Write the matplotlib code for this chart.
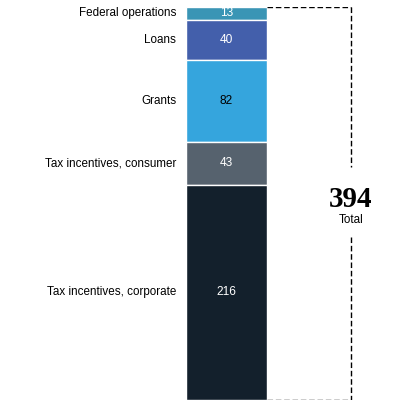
import matplotlib
matplotlib.use("Agg")
import matplotlib.pyplot as plt
import numpy as np

# 数据 (从上到下堆叠)
categories = ["Federal operations", "Loans", "Grants",
              "Tax incentives, consumer", "Tax incentives, corporate"]
values = [13, 40, 82, 43, 216]
colors = ["#3a95b5", "#435fab", "#35a5dd", "#56626e", "#13202c"]
label_colors = ["white", "white", "black", "white", "white"]
total = sum(values)

plt.rcParams['font.family'] = ['Liberation Sans', 'DejaVu Sans']

fig = plt.figure(figsize=(3.93, 4.11), dpi=100)
# 轴区域：纵向 y=7..400 像素对应 0..394
ax = fig.add_axes([0, 11 / 411, 1, 393 / 411])
ax.set_xlim(0, 393)
ax.set_ylim(total, 0)
ax.axis('off')

bar_x = 226.5
bar_w = 81
bottoms = np.concatenate([[0], np.cumsum(values)[:-1]])
ax.bar([bar_x] * len(values), values, bottom=bottoms, width=bar_w,
       color=colors, edgecolor='white', linewidth=1.0)

for cat, v, b, tc in zip(categories, values, bottoms, label_colors):
    mid = b + v / 2
    ax.text(bar_x, mid, str(v), ha='center', va='center', color=tc, fontsize=8.6)
    ax.text(176, mid, cat, ha='right', va='center', color='black', fontsize=8.4)

# 右侧虚线括号
x0 = bar_x + bar_w / 2
x1 = 351
dash = dict(color='black', linewidth=1, linestyle=(0, (4, 2)))
ax.plot([x0, x1], [0, 0], **dash)
ax.plot([x0, x1], [total, total], **dash)
ax.plot([x1, x1], [0, 160], **dash)
ax.plot([x1, x1], [231, total], **dash)

ax.text(x1, 193, str(total), ha='center', va='center', fontsize=21,
        fontweight='bold', family=['Liberation Serif', 'DejaVu Serif'])
ax.text(x1, 214, "Total", ha='center', va='center', fontsize=8.4)

fig.savefig("out.png", dpi=100)
